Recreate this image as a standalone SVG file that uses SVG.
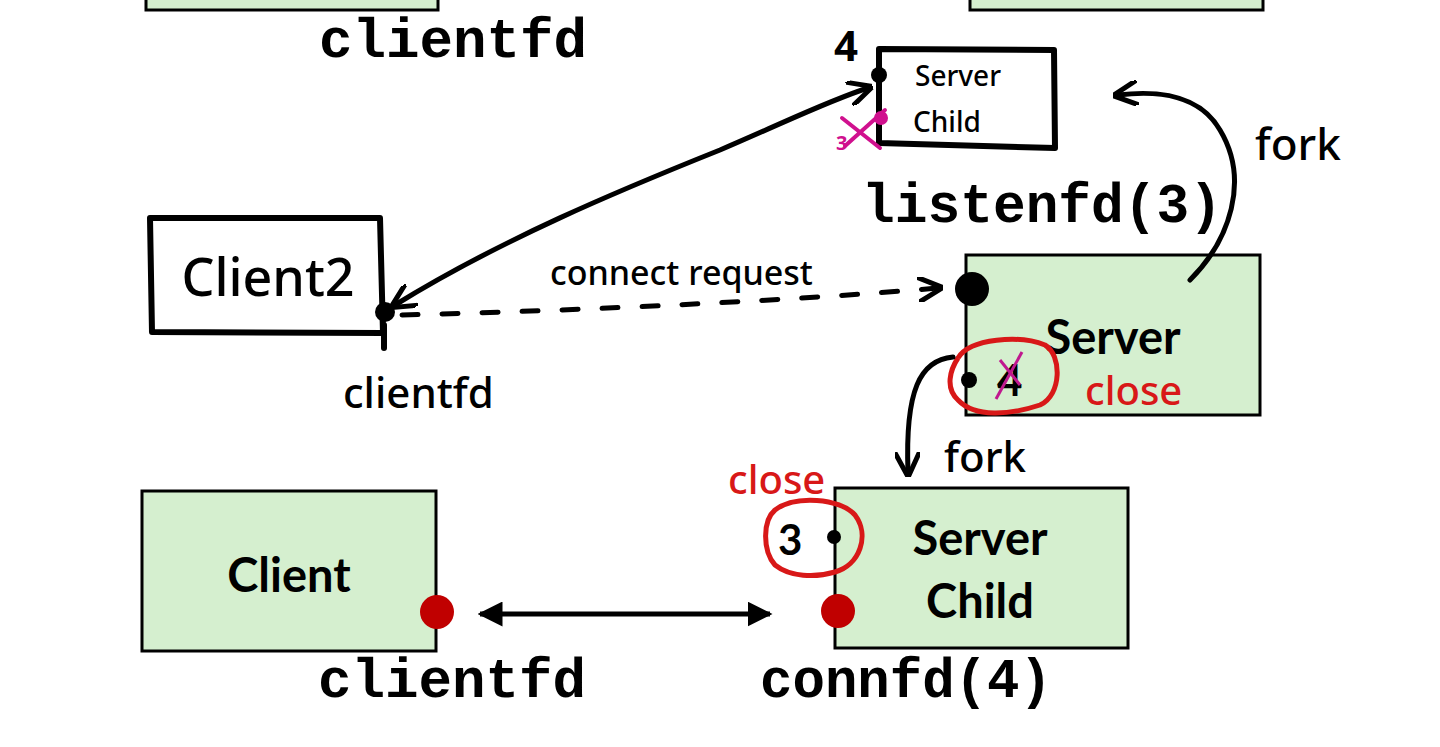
<svg xmlns="http://www.w3.org/2000/svg" width="1440" height="747" viewBox="0 0 1440 747">
<defs>
<style>
.box{fill:#d5efcf;stroke:#000;stroke-width:3}
.hbox{fill:#fff;stroke:#000;stroke-width:6;stroke-linejoin:round}
.mono{font-family:"Liberation Mono","Courier New",monospace;font-weight:bold;font-size:56px;fill:#000}
.bold{font-family:Lato,"Open Sans",sans-serif;font-weight:bold;font-size:47px;fill:#000;text-anchor:middle}
.hand{font-family:"Noto Sans","DejaVu Sans",sans-serif;font-weight:500;fill:#000}
.red{fill:#d81818}
.ln{fill:none;stroke:#000;stroke-width:5;stroke-linecap:round;stroke-linejoin:round}
</style>
<marker id="ah" viewBox="0 0 10 10" refX="8" refY="5" markerWidth="5" markerHeight="5" orient="auto-start-reverse" markerUnits="strokeWidth">
<path d="M0,0 L10,5 L0,10" fill="none" stroke="#000" stroke-width="2"/>
</marker>
<marker id="tri" viewBox="0 0 10 10" refX="9" refY="5" markerWidth="5" markerHeight="5" orient="auto-start-reverse" markerUnits="strokeWidth">
<path d="M0,0 L10,5 L0,10 z" fill="#000"/>
</marker>
</defs>

<g id="top-left-box"><rect class="box" x="146" y="-20" width="292" height="30"/></g>
<g id="top-right-box"><rect class="box" x="970" y="-20" width="293" height="30"/></g>
<text class="mono" x="319" y="57" textLength="268" lengthAdjust="spacingAndGlyphs">clientfd</text>

<g id="server-child-small">
<path class="hbox" d="M879,49 L1054,50 L1055,148 L879,143 Z"/>
<text class="hand" x="915" y="86" font-size="28">Server</text>
<text class="hand" x="913" y="132" font-size="28">Child</text>
<text x="834" y="61" font-family="Noto Sans, sans-serif" font-size="42" font-weight="bold" fill="#000">4</text>
<circle cx="879" cy="75" r="8" fill="#000"/>
<circle cx="881" cy="118" r="7" fill="#d0108e"/>
<path d="M842,118 L880,148 M845,146 L885,110" stroke="#d0108e" stroke-width="4" fill="none" stroke-linecap="round"/>
<text x="836" y="150" font-family="Noto Sans, sans-serif" font-size="20" font-weight="bold" fill="#d0108e">3</text>
</g>

<text class="mono" x="862" y="222" textLength="360" lengthAdjust="spacingAndGlyphs">listenfd(3)</text>

<g id="client2">
<path class="hbox" d="M150,218 L380,218 L383,333 L152,332 Z"/>
<line x1="384" y1="325" x2="384" y2="348" stroke="#000" stroke-width="6" stroke-linecap="round"/>
<text class="hand" x="268" y="296" font-size="52" text-anchor="middle">Client2</text>
<circle cx="385" cy="312" r="10" fill="#000"/>
<text class="hand" x="343" y="408" font-size="42">clientfd</text>
</g>

<g id="server">
<rect class="box" x="966" y="255" width="294" height="160"/>
<text class="bold" x="1113" y="354">Server</text>
<circle cx="972" cy="289" r="17" fill="#000"/>
<circle cx="969" cy="380" r="8" fill="#000"/>
<text x="997" y="396" font-family="Lato, sans-serif" font-weight="bold" font-size="44" fill="#000">4</text>
<line x1="996" y1="399" x2="1022" y2="352" stroke="#c0188e" stroke-width="3"/>
<line x1="1000" y1="360" x2="1020" y2="385" stroke="#c0188e" stroke-width="3"/>
<path d="M958,358 C970,338 1020,335 1045,345 C1062,355 1062,395 1040,405 C1010,415 975,418 958,400 C945,388 950,370 958,358" fill="none" stroke="#d81818" stroke-width="5"/>
<text class="hand red" x="1085" y="405" font-size="40">close</text>
</g>

<g id="server-child">
<rect class="box" x="835" y="488" width="293" height="160"/>
<text class="bold" x="980" y="555">Server</text>
<text class="bold" x="980" y="618">Child</text>
<circle cx="834" cy="537" r="7" fill="#000"/>
<circle cx="838" cy="611" r="17" fill="#c00000"/>
<text x="778" y="555" font-family="Lato, sans-serif" font-weight="bold" font-size="42" fill="#000">3</text>
<path d="M775,510 C795,495 840,498 855,515 C870,535 860,565 835,572 C815,578 790,577 775,565 C762,550 763,520 775,510" fill="none" stroke="#d81818" stroke-width="5"/>
<text class="hand red" x="728" y="494" font-size="40">close</text>
</g>

<g id="client">
<rect class="box" x="142" y="491" width="294" height="160"/>
<text class="bold" x="289" y="592">Client</text>
<circle cx="437" cy="612" r="17" fill="#c00000"/>
</g>

<text class="mono" x="318" y="697" textLength="268" lengthAdjust="spacingAndGlyphs">clientfd</text>
<text class="mono" x="760" y="697" textLength="292" lengthAdjust="spacingAndGlyphs">connfd(4)</text>

<g id="connectors">
<path class="ln" d="M395,305 C500,240 620,190 720,150 C790,120 830,100 868,88" marker-start="url(#ah)" marker-end="url(#ah)"/>
<path d="M402,315 C600,310 800,300 938,288" fill="none" stroke="#000" stroke-width="5" stroke-dasharray="16,24" stroke-linecap="round" marker-end="url(#ah)"/>
<text class="hand" x="550" y="285" font-size="34">connect request</text>
<path class="ln" d="M1190,280 C1230,240 1250,180 1220,130 C1200,95 1160,90 1118,95" marker-end="url(#ah)"/>
<text class="hand" x="1255" y="160" font-size="44">fork</text>
<path class="ln" d="M953,357 C920,360 905,390 908,472" marker-end="url(#ah)"/>
<text class="hand" x="944" y="472" font-size="42">fork</text>
<line x1="480" y1="614" x2="770" y2="614" stroke="#000" stroke-width="5" marker-start="url(#tri)" marker-end="url(#tri)"/>
</g>
</svg>
